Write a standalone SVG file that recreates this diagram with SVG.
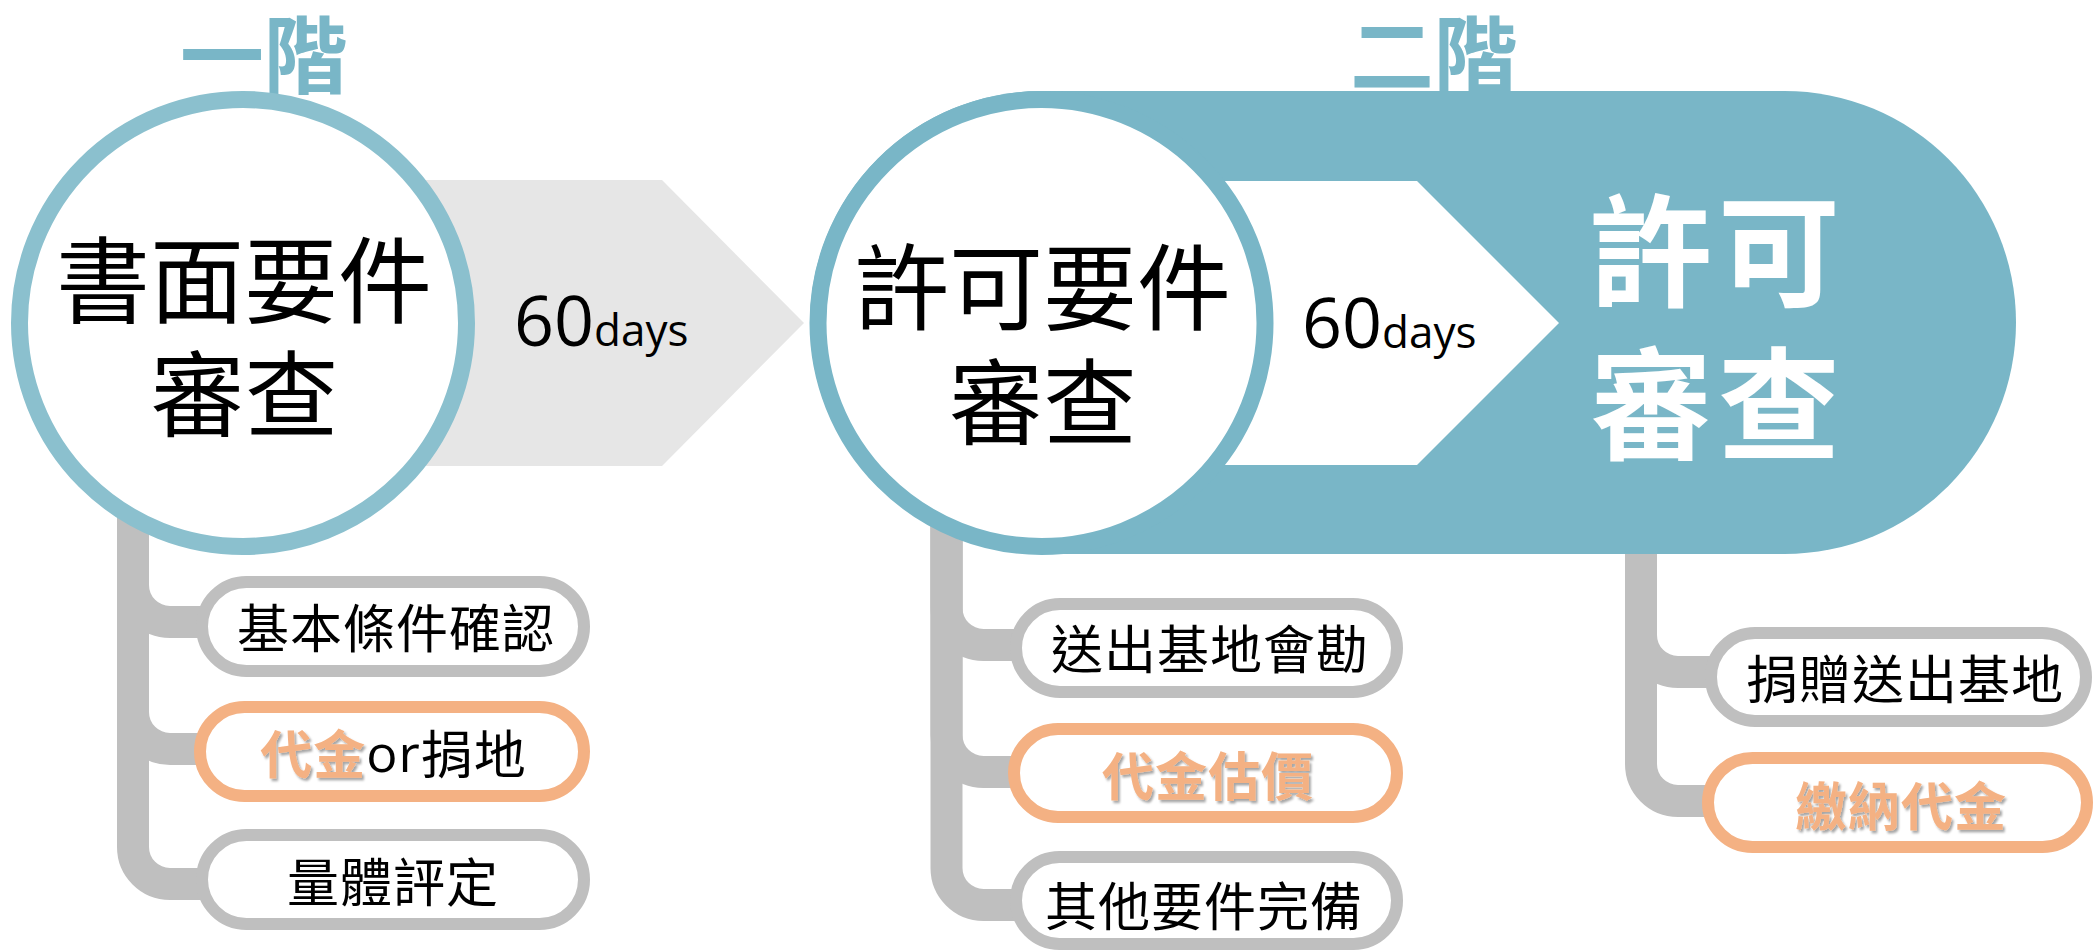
<svg xmlns="http://www.w3.org/2000/svg" width="2093" height="950" viewBox="0 0 2093 950">
  <defs>
    <style>
      .cjk { font-family: "Noto Sans CJK TC", "Noto Sans CJK SC", sans-serif; }
      .title { font-size: 84px; font-weight: 700; fill: #79b6c7; text-anchor: middle; dominant-baseline: central; }
      .big { font-size: 94px; font-weight: 400; fill: #000; text-anchor: middle; dominant-baseline: central; }
      .bigw { font-size: 122px; font-weight: 700; fill: #fff; text-anchor: middle; dominant-baseline: central; letter-spacing: 6px; }
      .lbl { font-size: 52px; font-weight: 400; fill: #000; text-anchor: middle; dominant-baseline: central; letter-spacing: 1px; }
      .hl { font-weight: 700; fill: #f4b183; filter: url(#shadow); }
      .pill { fill: #fff; stroke: #bfbfbf; stroke-width: 12; }
      .pill-o { fill: #fff; stroke: #f4b183; stroke-width: 12; }
      .conn { fill: none; stroke: #bfbfbf; stroke-width: 32; }
      .days { font-family: "Open Sans", "Noto Sans", sans-serif; fill: #000; }
      .num { font-size: 70px; }
      .unit { font-size: 44px; }
      .lat { font-family: "Open Sans", "Noto Sans", sans-serif; }
    </style>
    <filter id="shadow" x="-10%" y="-10%" width="130%" height="140%">
      <feDropShadow dx="2" dy="2.5" stdDeviation="1.2" flood-color="#000" flood-opacity="0.35"/>
    </filter>
  </defs>

  <!-- connectors -->
  <g id="connectors">
    <path class="conn" d="M133,450 V585 A37,37 0 0 0 170,622 H205"/>
    <path class="conn" d="M133,450 V712 A37,37 0 0 0 170,749 H205"/>
    <path class="conn" d="M133,450 V847 A37,37 0 0 0 170,884 H205"/>
    <path class="conn" d="M946.5,500 V608 A37,37 0 0 0 983.5,645 H1018"/>
    <path class="conn" d="M946.5,500 V735 A37,37 0 0 0 983.5,772 H1018"/>
    <path class="conn" d="M946.5,500 V868 A37,37 0 0 0 983.5,905 H1018"/>
    <path class="conn" d="M1641,500 V635 A37,37 0 0 0 1678,672 H1713"/>
    <path class="conn" d="M1641,500 V764 A37,37 0 0 0 1678,801 H1713"/>
  </g>

  <!-- stage titles -->
  <g id="title1"><text class="cjk title" x="264" y="50">一階</text></g>
  <g id="title2"><text class="cjk title" x="1434" y="50">二階</text></g>

  <!-- stage 1 -->
  <g id="arrow1">
    <polygon points="243,180 662,180 804,323 662,466 243,466" fill="#e6e6e6"/>
    <text class="days" x="514" y="346"><tspan class="num">60</tspan><tspan class="unit">days</tspan></text>
  </g>
  <g id="circle1">
    <circle cx="243" cy="323" r="223.5" fill="#fff" stroke="#8bc0ce" stroke-width="17"/>
    <text class="cjk big" x="244" y="275">書面要件</text>
    <text class="cjk big" x="244.5" y="389">審查</text>
  </g>

  <!-- stage 2 -->
  <g id="stage2">
    <rect x="810" y="91" width="1206" height="463" rx="231.5" fill="#79b6c7"/>
    <text class="cjk bigw" x="1718" y="243.5">許可</text>
    <text class="cjk bigw" x="1718" y="396.5">審查</text>
  </g>
  <g id="arrow2">
    <polygon points="1041,181 1417,181 1559,323 1417,465 1041,465" fill="#fff"/>
    <text class="days" x="1302" y="348"><tspan class="num">60</tspan><tspan class="unit">days</tspan></text>
  </g>
  <g id="circle2">
    <circle cx="1041.5" cy="323" r="223.5" fill="#fff" stroke="#79b6c7" stroke-width="17"/>
    <text class="cjk big" x="1043" y="281.5">許可要件</text>
    <text class="cjk big" x="1043" y="396.5">審查</text>
  </g>

  <!-- stage 1 items -->
  <g id="item-basic">
    <rect class="pill" x="202" y="582" width="382" height="89" rx="44.5"/>
    <text class="cjk lbl" x="396" y="625">基本條件確認</text>
  </g>
  <g id="item-fee-or-land">
    <rect class="pill-o" x="200" y="707" width="384" height="89" rx="44.5"/>
    <text class="cjk lbl" x="393.5" y="751"><tspan class="hl">代金</tspan><tspan class="lat">or</tspan>捐地</text>
  </g>
  <g id="item-volume">
    <rect class="pill" x="202" y="835" width="382" height="89" rx="44.5"/>
    <text class="cjk lbl" x="393" y="879">量體評定</text>
  </g>

  <!-- stage 2 items -->
  <g id="item-survey">
    <rect class="pill" x="1016" y="604" width="381" height="88" rx="44"/>
    <text class="cjk lbl" x="1210" y="646">送出基地會勘</text>
  </g>
  <g id="item-valuation">
    <rect class="pill-o" x="1014" y="729" width="383" height="88" rx="44"/>
    <text class="cjk lbl hl" x="1208" y="773">代金估價</text>
  </g>
  <g id="item-other">
    <rect class="pill" x="1016" y="857" width="381" height="87" rx="43.5"/>
    <text class="cjk lbl" x="1204" y="903">其他要件完備</text>
  </g>

  <!-- permit review items -->
  <g id="item-donate">
    <rect class="pill" x="1711" y="633" width="375" height="88" rx="44"/>
    <text class="cjk lbl" x="1905" y="676">捐贈送出基地</text>
  </g>
  <g id="item-pay">
    <rect class="pill-o" x="1708" y="758" width="379" height="89" rx="44.5"/>
    <text class="cjk lbl hl" x="1901" y="803">繳納代金</text>
  </g>
</svg>
